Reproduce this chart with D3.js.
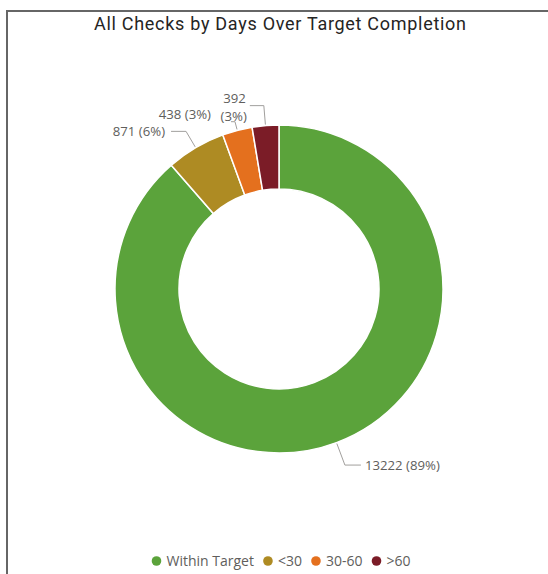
<!DOCTYPE html>
<html lang="en">
<head>
    <meta charset="UTF-8">
    <title>All Checks by Days Over Target Completion</title>
    <script src="https://d3js.org/d3.v7.min.js"></script>
    <style>
        body { margin: 0; background: white; }
        svg { display: block; }
        .title { font-family: "Roboto", sans-serif; font-size: 18px; fill: #252423; }
        .lbl { font-family: "Open Sans", sans-serif; font-size: 13.2px; fill: #605E5C; }
        .legend text { font-family: "Open Sans", sans-serif; font-size: 14px; fill: #605E5C; }
    </style>
</head>
<body>
<div id="chart"></div>
<script>
    // Data
    const categories = ["Within Target", "<30", "30-60", ">60"];
    const counts = [13222, 871, 438, 392];
    const colors = ["#5BA33B", "#AE8B23", "#E4701E", "#7B1C27"];

    // leader line settings per slice (radial length, horizontal length)
    const leaderExt = [24, 19, 9, 20];
    const leaderRun = [16, 15, 4, 14];

    const W = 548, H = 574;
    const cx = 279, cy = 289, outerR = 164, innerR = 100;

    const svg = d3.select("#chart").append("svg")
        .attr("width", W).attr("height", H);

    // visual frame
    svg.append("path")
        .attr("d", `M7,${H} V11 H${W}`)
        .attr("fill", "none").attr("stroke", "#666").attr("stroke-width", 2);

    svg.append("text").attr("class", "title")
        .attr("x", 280).attr("y", 30)
        .attr("text-anchor", "middle")
        .attr("textLength", 372).attr("lengthAdjust", "spacing")
        .text("All Checks by Days Over Target Completion");

    const data = categories.map((c, i) => ({ cat: c, value: counts[i], color: colors[i], i }));
    const total = d3.sum(counts);

    const pie = d3.pie().value(d => d.value).sort(null);
    const arcs = pie(data);
    const arc = d3.arc().innerRadius(innerR).outerRadius(outerR);

    const g = svg.append("g").attr("transform", `translate(${cx},${cy})`);

    g.selectAll("path.slice")
        .data(arcs)
        .enter().append("path")
        .attr("class", "slice")
        .attr("d", arc)
        .attr("fill", d => d.data.color)
        .attr("stroke", "white")
        .attr("stroke-width", 1.5);

    // labels with leader lines
    const pct = v => Math.round(v / total * 100) + "%";
    arcs.forEach((d, k) => {
        const a = (d.startAngle + d.endAngle) / 2;
        const sx = Math.sin(a), sy = -Math.cos(a);
        const p0 = [sx * (outerR + 1), sy * (outerR + 1)];
        const p1 = [sx * (outerR + leaderExt[k]), sy * (outerR + leaderExt[k])];
        const right = sx > 0;
        const p2 = [p1[0] + (right ? 1 : -1) * leaderRun[k], p1[1]];
        g.append("polyline")
            .attr("points", [p0, p1, p2].map(p => p.join(",")).join(" "))
            .attr("fill", "none").attr("stroke", "#A19F9D").attr("stroke-width", 1);

        const txt = g.append("text").attr("class", "lbl")
            .attr("text-anchor", right ? "start" : "end");
        if (k === 3) {
            // wrapped label for the smallest slice
            txt.attr("x", p2[0] - 4).attr("y", p2[1] - 3);
            txt.append("tspan").attr("x", p2[0] - 4).text(d.data.value);
            txt.append("tspan").attr("x", p2[0] - 3).attr("dy", 18).text("(" + pct(d.data.value) + ")");
        } else if (k === 2) {
            txt.attr("x", p2[0] - 20).attr("y", p2[1] - 3)
                .text(`${d.data.value} (${pct(d.data.value)})`);
        } else {
            txt.attr("x", p2[0] + (right ? 4 : -6)).attr("y", p2[1] + 4.5)
                .text(`${d.data.value} (${pct(d.data.value)})`);
        }
    });

    // legend
    const legend = svg.append("g").attr("class", "legend");
    let lx = 0, lend = 0;
    data.forEach(d => {
        const item = legend.append("g").attr("transform", `translate(${lx},0)`);
        item.append("circle").attr("cx", 0).attr("cy", 0).attr("r", 4.8).attr("fill", d.color);
        const t = item.append("text").attr("x", 10).attr("y", 5).text(d.cat);
        lend = lx + 10 + t.node().getComputedTextLength();
        lx = lend + 14;
    });
    legend.attr("transform", `translate(${276 - (lend - 5) / 2 + 5},561)`);
</script>
</body>
</html>
